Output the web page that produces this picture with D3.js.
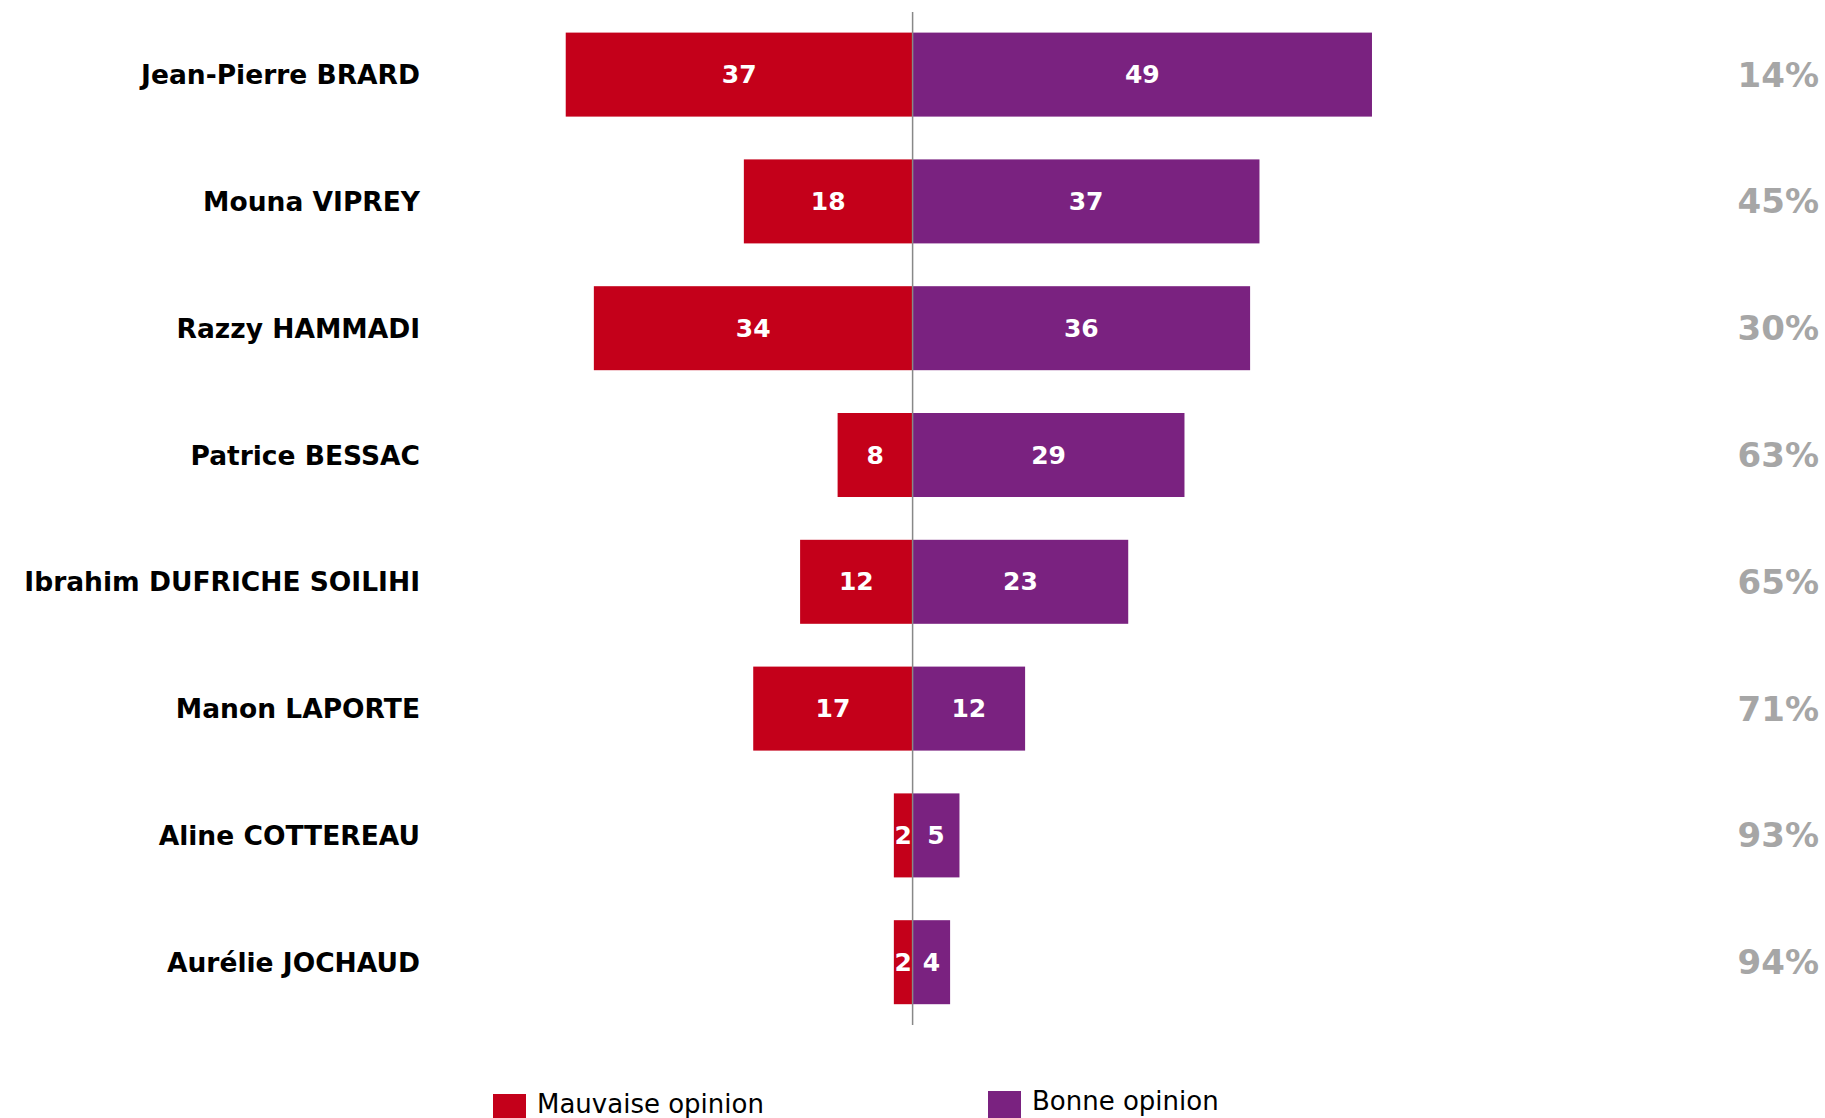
<!DOCTYPE html>
<html>
<head>
<meta charset="utf-8">
<script src="https://cdn.jsdelivr.net/npm/d3@7"></script>
<style>
  html, body { margin: 0; padding: 0; background: #fff; }
  svg { display: block; }
</style>
</head>
<body>
<svg id="chart" width="1825" height="1118"></svg>
<script>
const names = ["Jean-Pierre BRARD", "Mouna VIPREY", "Razzy HAMMADI", "Patrice BESSAC",
  "Ibrahim DUFRICHE SOILIHI", "Manon LAPORTE", "Aline COTTEREAU", "Aurélie JOCHAUD"];
const mauvaise = [37, 18, 34, 8, 12, 17, 2, 2];
const bonne = [49, 37, 36, 29, 23, 12, 5, 4];
const nsp = ["14%", "45%", "30%", "63%", "65%", "71%", "93%", "94%"];
const seriesNames = ["Mauvaise opinion", "Bonne opinion"];
const colors = ["#c4001a", "#7a2280"];

const svg = d3.select("#chart");
const x = d3.scaleLinear().domain([-40, 50]).range([537.6, 1381.35]);
const y = d3.scaleBand().domain(names).range([32.6, 1004.2]).paddingInner(0.3375).paddingOuter(0);

const rows = names.map((n, i) => ({name: n, bad: mauvaise[i], good: bonne[i], pct: nsp[i]}));

// bars
svg.append("g").selectAll("rect").data(rows).join("rect")
  .attr("x", d => x(-d.bad)).attr("y", d => y(d.name))
  .attr("width", d => x(0) - x(-d.bad)).attr("height", y.bandwidth())
  .attr("fill", colors[0]);
svg.append("g").selectAll("rect").data(rows).join("rect")
  .attr("x", x(0)).attr("y", d => y(d.name))
  .attr("width", d => x(d.good) - x(0)).attr("height", y.bandwidth())
  .attr("fill", colors[1]);

// center line
svg.append("line").attr("x1", x(0)).attr("x2", x(0)).attr("y1", 12).attr("y2", 1025)
  .attr("stroke", "#888").attr("stroke-width", 1.5);

const font = "'DejaVu Sans', Verdana, sans-serif";

// value labels
svg.append("g").selectAll("text").data(rows).join("text")
  .attr("x", d => (x(-d.bad) + x(0)) / 2).attr("y", d => y(d.name) + y.bandwidth() / 2)
  .attr("text-anchor", "middle").attr("dominant-baseline", "central")
  .attr("font-family", font).attr("font-weight", "bold").attr("font-size", 25)
  .attr("fill", "#fff").text(d => d.bad);
svg.append("g").selectAll("text").data(rows).join("text")
  .attr("x", d => (x(d.good) + x(0)) / 2).attr("y", d => y(d.name) + y.bandwidth() / 2)
  .attr("text-anchor", "middle").attr("dominant-baseline", "central")
  .attr("font-family", font).attr("font-weight", "bold").attr("font-size", 25)
  .attr("fill", "#fff").text(d => d.good);

// name labels
svg.append("g").selectAll("text").data(rows).join("text")
  .attr("x", 420).attr("y", d => y(d.name) + y.bandwidth() / 2)
  .attr("text-anchor", "end").attr("dominant-baseline", "central")
  .attr("font-family", font).attr("font-weight", "bold").attr("font-size", 26.5)
  .attr("fill", "#000").text(d => d.name);

// percent labels
svg.append("g").selectAll("text").data(rows).join("text")
  .attr("x", 1819).attr("y", d => y(d.name) + y.bandwidth() / 2)
  .attr("text-anchor", "end").attr("dominant-baseline", "central")
  .attr("font-family", font).attr("font-weight", "bold").attr("font-size", 34)
  .attr("fill", "#a6a6a6").text(d => d.pct);

// legend
const legendPos = [{x: 493, y: 1094}, {x: 988, y: 1091}];
seriesNames.forEach((s, i) => {
  const g = svg.append("g").attr("transform", `translate(${legendPos[i].x},${legendPos[i].y})`);
  g.append("rect").attr("width", 33).attr("height", 33).attr("fill", colors[i]);
  g.append("text").attr("x", 44).attr("y", 19).attr("font-family", font)
    .attr("font-size", 26).attr("fill", "#000").text(s);
});
</script>
</body>
</html>
